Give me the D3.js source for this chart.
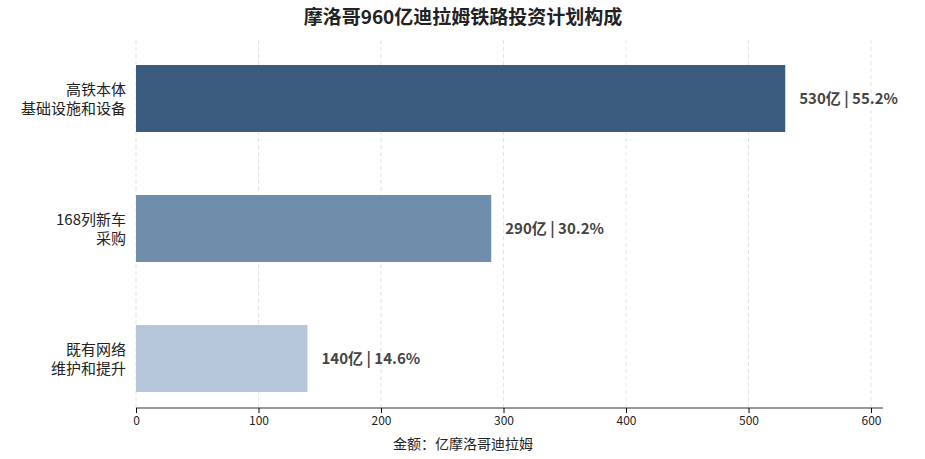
<!DOCTYPE html><html><head><meta charset="utf-8"><script src="https://d3js.org/d3.v7.min.js"></script>
<style>body{margin:0;background:#fff}text{font-family:"Noto Sans CJK SC","Noto Sans",sans-serif}</style></head><body>
<svg id="c" width="925" height="459"></svg>
<script>
const categories=[["高铁本体","基础设施和设备"],["168列新车","采购"],["既有网络","维护和提升"]];
const values=[530,290,140];
const shares=["55.2%","30.2%","14.6%"];
const colors=["#3a5a7e","#6e8eab","#b5c6d8"];
const ticks=[0,100,200,300,400,500,600];
const svg=d3.select("#c");
const x=d3.scaleLinear().domain([0,600]).range([136,871]);
const y=d3.scaleBand().domain(d3.range(3)).range([33.5,423.5]).paddingInner(0.485).paddingOuter(0.2425);
svg.append("g").selectAll("line").data(ticks).join("line").attr("x1",d=>x(d)).attr("x2",d=>x(d)).attr("y1",40).attr("y2",408).attr("stroke","#e3e3e3").attr("stroke-dasharray","4,3");
svg.append("g").selectAll("rect").data(values).join("rect").attr("x",x(0)).attr("y",(d,i)=>y(i)).attr("width",d=>x(d)-x(0)).attr("height",y.bandwidth()).attr("fill",(d,i)=>colors[i]);
svg.append("g").selectAll("text").data(values).join("text").attr("x",d=>x(d)+14).attr("y",(d,i)=>y(i)+y.bandwidth()/2).attr("dy","0.35em").attr("font-size",15).attr("font-weight","bold").attr("fill","#444").text((d,i)=>`${d}亿 | ${shares[i]}`);
const g=svg.append("g");
categories.forEach((c,i)=>{const t=g.append("text").attr("text-anchor","end").attr("font-size",15).attr("fill","#222");
c.forEach((s,j)=>t.append("tspan").attr("x",126).attr("y",y(i)+y.bandwidth()/2+(j-0.5)*19+6).text(s));});
const ax=svg.append("g").attr("transform","translate(0,408)").call(d3.axisBottom(x).tickValues(ticks).tickSize(5).tickSizeOuter(0));
ax.select(".domain").attr("d","M136,0H883").attr("stroke","#333");
ax.selectAll("text").attr("font-size",12).attr("fill","#222");
svg.append("text").attr("x",463).attr("y",449).attr("text-anchor","middle").attr("font-size",14).attr("fill","#222").text("金额：亿摩洛哥迪拉姆");
svg.append("text").attr("x",463).attr("y",24).attr("text-anchor","middle").attr("font-size",19).attr("font-weight","bold").attr("fill","#222").text("摩洛哥960亿迪拉姆铁路投资计划构成");
</script></body></html>
